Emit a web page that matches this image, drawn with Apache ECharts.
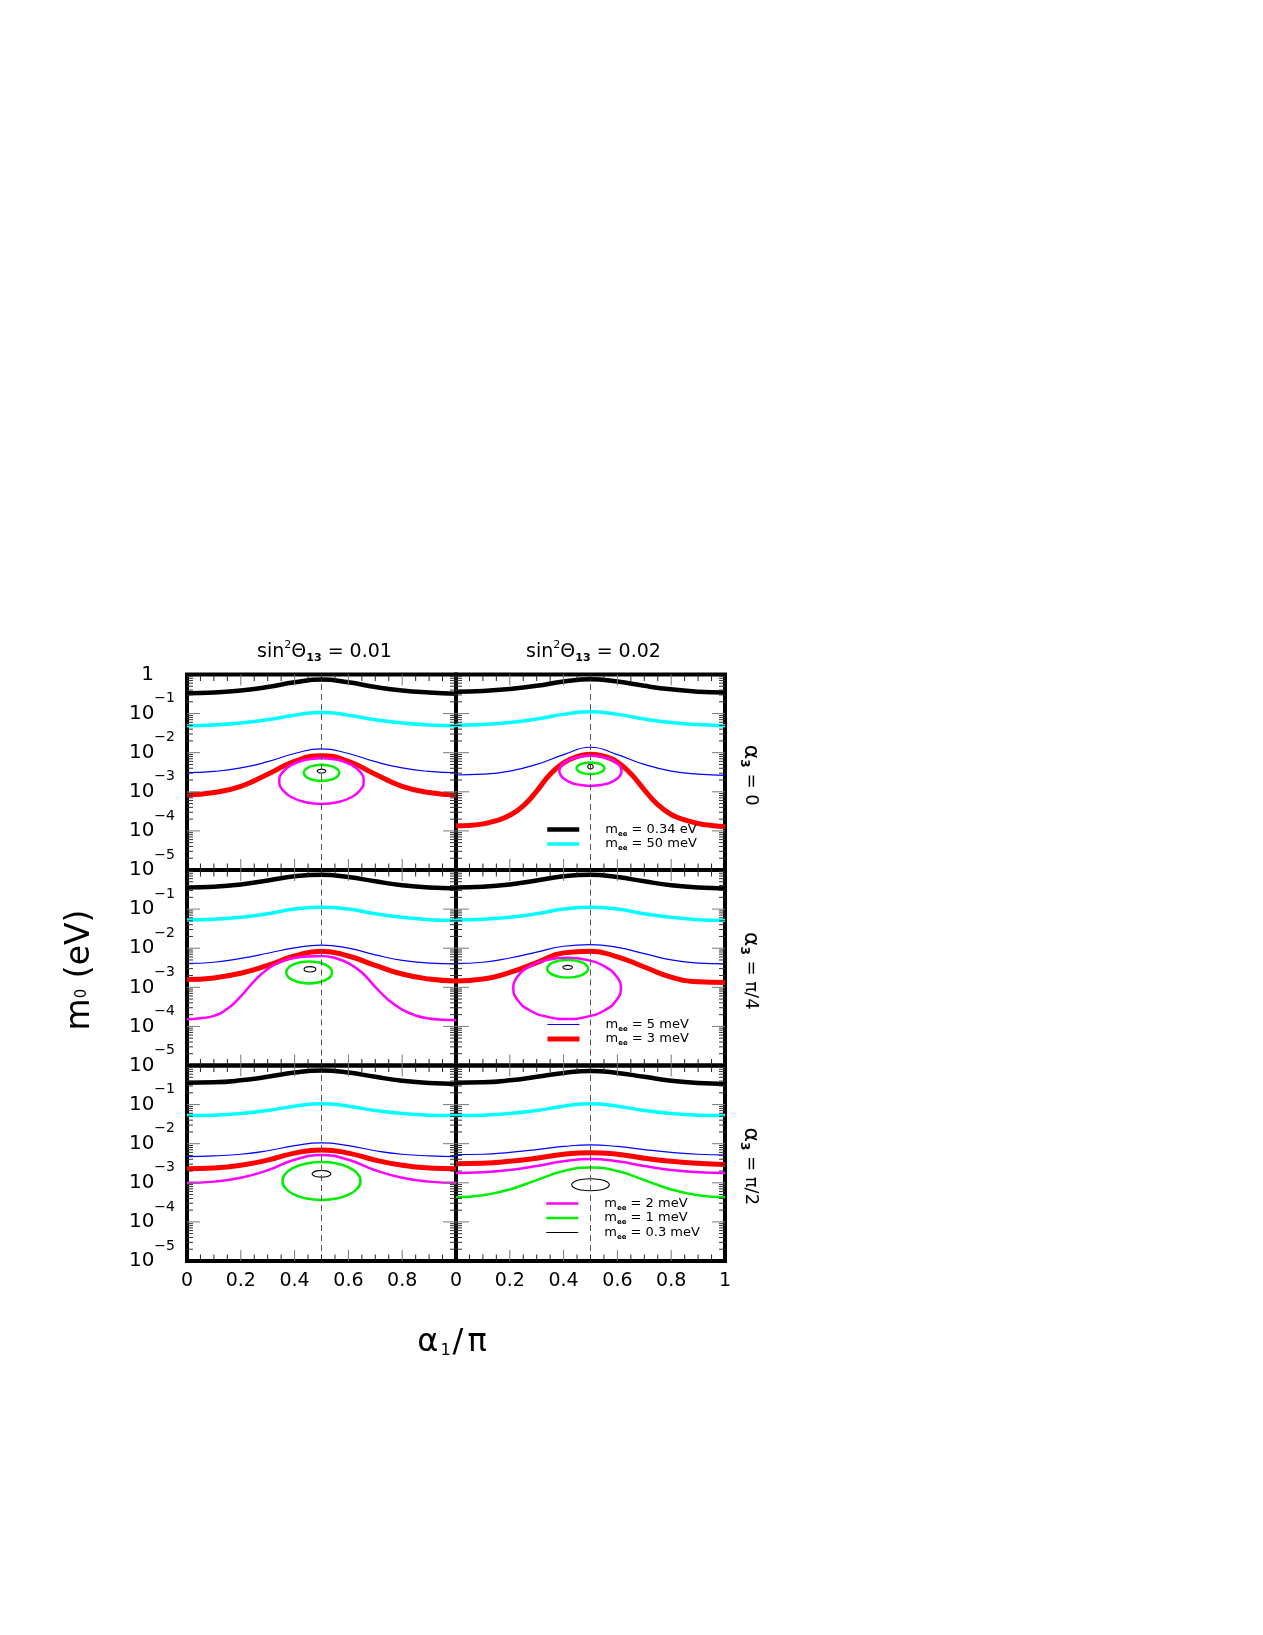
<!DOCTYPE html>
<html>
<head>
<meta charset="utf-8">
<script src="https://cdn.jsdelivr.net/npm/echarts/dist/echarts.min.js"></script>
<style>html,body{margin:0;padding:0;background:#fff}#c{width:1263px;height:1635px}</style>
</head>
<body>
<div id="c"></div>
<script>
const FONT = 'DejaVu Sans';

// ---- x positions (alpha1 / pi) ----
const alphaCoarse = [0, 0.1, 0.2, 0.3, 0.4, 0.5, 0.6, 0.7, 0.8, 0.9, 1];
const alphaFine = [0, 0.05, 0.1, 0.15, 0.2, 0.25, 0.3, 0.35, 0.4, 0.45, 0.5, 0.55, 0.6, 0.65, 0.7, 0.75, 0.8, 0.85, 0.9, 0.95, 1];

// ---- labels / ticks ----
const colTitles = ['0.01', '0.02'];            // sin^2 Theta13
const rowLabels = ['0', 'π/4', 'π/2'];         // alpha3
const yTickExp = [0, -1, -2, -3, -4, -5];      // log10(m0/eV) tick labels
const xMajorTicks = [0.2, 0.4, 0.6, 0.8];
const xMinorTicks = [0.05, 0.1, 0.15, 0.25, 0.3, 0.35, 0.45, 0.5, 0.55, 0.65, 0.7, 0.75, 0.85, 0.9, 0.95];
const yMajorTicks = [-1, -2, -3, -4];

// ---- values: log10(m0 / eV) ----
// Panel 1: sin2=0.01, alpha3=0
const p1Black = [-0.48, -0.46, -0.41, -0.32, -0.20, -0.13, -0.20, -0.32, -0.41, -0.46, -0.49];
const p1Cyan  = [-1.31, -1.29, -1.24, -1.16, -1.04, -0.97, -1.04, -1.16, -1.24, -1.29, -1.31];
const p1Blue  = [-2.51, -2.48, -2.39, -2.23, -2.02, -1.90, -2.02, -2.23, -2.39, -2.48, -2.51];
const p1Red   = [-3.08, -3.02, -2.86, -2.55, -2.22, -2.08, -2.22, -2.55, -2.86, -3.02, -3.08];
const p1Magenta = [[0.5,-2.14],[0.560,-2.184],[0.611,-2.311],[0.645,-2.501],[0.657,-2.725],[0.645,-2.949],[0.611,-3.139],[0.560,-3.266],[0.5,-3.31],[0.440,-3.266],[0.389,-3.139],[0.355,-2.949],[0.343,-2.725],[0.355,-2.501],[0.389,-2.311],[0.440,-2.184],[0.5,-2.14]];
const p1Green = [[0.5,-2.31],[0.525,-2.326],[0.547,-2.37],[0.561,-2.437],[0.566,-2.515],[0.561,-2.594],[0.547,-2.66],[0.525,-2.704],[0.5,-2.72],[0.475,-2.704],[0.453,-2.66],[0.439,-2.594],[0.434,-2.515],[0.439,-2.437],[0.453,-2.37],[0.475,-2.326],[0.5,-2.31]];
const p1Tiny  = [[0.5,-2.42],[0.511,-2.435],[0.516,-2.47],[0.511,-2.505],[0.5,-2.52],[0.489,-2.505],[0.484,-2.47],[0.489,-2.435],[0.5,-2.42]];

// Panel 2: sin2=0.02, alpha3=0
const p2Black = [-0.44, -0.42, -0.37, -0.29, -0.18, -0.12, -0.18, -0.29, -0.38, -0.44, -0.46];
const p2Cyan  = [-1.30, -1.28, -1.23, -1.14, -1.02, -0.95, -1.02, -1.14, -1.23, -1.28, -1.31];
const p2Blue  = [-2.57, -2.55, -2.47, -2.30, -2.05, -1.86, -2.05, -2.30, -2.47, -2.55, -2.58];
const p2Red   = [-3.87, -3.86, -3.82, -3.74, -3.60, -3.36, -2.98, -2.55, -2.26, -2.10, -2.04, -2.09, -2.24, -2.54, -2.95, -3.33, -3.58, -3.72, -3.81, -3.86, -3.89];
const p2Magenta = [[0.5,-2.08],[0.544,-2.109],[0.582,-2.193],[0.607,-2.318],[0.616,-2.465],[0.607,-2.612],[0.582,-2.737],[0.544,-2.821],[0.5,-2.85],[0.456,-2.821],[0.418,-2.737],[0.393,-2.612],[0.384,-2.465],[0.393,-2.318],[0.418,-2.193],[0.456,-2.109],[0.5,-2.08]];
const p2Green = [[0.5,-2.25],[0.52,-2.261],[0.537,-2.293],[0.548,-2.341],[0.552,-2.398],[0.548,-2.455],[0.537,-2.503],[0.52,-2.535],[0.5,-2.546],[0.48,-2.535],[0.463,-2.503],[0.452,-2.455],[0.448,-2.398],[0.452,-2.341],[0.463,-2.293],[0.48,-2.261],[0.5,-2.25]];
const p2Tiny  = [[0.5,-2.295],[0.507,-2.31],[0.51,-2.355],[0.507,-2.40],[0.5,-2.415],[0.493,-2.40],[0.49,-2.355],[0.493,-2.31],[0.5,-2.295]];

// Panel 3: sin2=0.01, alpha3=pi/4
const p3Black = [-0.45, -0.43, -0.37, -0.27, -0.16, -0.12, -0.18, -0.29, -0.39, -0.45, -0.47];
const p3Cyan  = [-1.28, -1.26, -1.21, -1.12, -1.00, -0.95, -1.00, -1.12, -1.21, -1.27, -1.29];
const p3Blue  = [-2.39, -2.36, -2.26, -2.13, -1.99, -1.92, -2.00, -2.17, -2.31, -2.38, -2.40];
const p3Red   = [-2.80, -2.76, -2.64, -2.44, -2.20, -2.08, -2.20, -2.44, -2.66, -2.79, -2.84];
const p3Magenta = [-3.82, -3.79, -3.73, -3.55, -3.23, -2.84, -2.53, -2.34, -2.25, -2.21, -2.20, -2.25, -2.38, -2.62, -2.99, -3.33, -3.57, -3.72, -3.80, -3.83, -3.84];
const p3Green = [[0.454,-2.34],[0.487,-2.361],[0.514,-2.422],[0.533,-2.513],[0.539,-2.62],[0.533,-2.727],[0.514,-2.818],[0.487,-2.879],[0.454,-2.90],[0.421,-2.879],[0.394,-2.818],[0.375,-2.727],[0.369,-2.62],[0.375,-2.513],[0.394,-2.422],[0.421,-2.361],[0.454,-2.34]];
const p3Tiny  = [[0.457,-2.47],[0.473,-2.49],[0.479,-2.54],[0.473,-2.59],[0.457,-2.61],[0.441,-2.59],[0.435,-2.54],[0.441,-2.49],[0.457,-2.47]];

// Panel 4: sin2=0.02, alpha3=pi/4
const p4Black = [-0.45, -0.43, -0.37, -0.27, -0.16, -0.12, -0.18, -0.29, -0.39, -0.45, -0.47];
const p4Cyan  = [-1.28, -1.26, -1.21, -1.12, -1.00, -0.95, -1.00, -1.12, -1.21, -1.27, -1.29];
const p4Blue  = [-2.39, -2.36, -2.25, -2.10, -1.95, -1.91, -1.98, -2.14, -2.30, -2.38, -2.40];
const p4Red   = [-2.84, -2.79, -2.62, -2.37, -2.12, -2.08, -2.22, -2.48, -2.74, -2.86, -2.88];
const p4Magenta = [[0.413,-2.242],[0.489,-2.302],[0.554,-2.472],[0.597,-2.726],[0.613,-3.026],[0.597,-3.326],[0.554,-3.580],[0.489,-3.750],[0.413,-3.81],[0.337,-3.750],[0.272,-3.580],[0.229,-3.326],[0.213,-3.026],[0.229,-2.726],[0.272,-2.472],[0.337,-2.302],[0.413,-2.242]];
const p4Green = [[0.415,-2.30],[0.444,-2.317],[0.469,-2.366],[0.485,-2.439],[0.491,-2.525],[0.485,-2.611],[0.469,-2.684],[0.444,-2.733],[0.415,-2.75],[0.386,-2.733],[0.361,-2.684],[0.345,-2.611],[0.339,-2.525],[0.345,-2.439],[0.361,-2.366],[0.386,-2.317],[0.415,-2.30]];
const p4Tiny  = [[0.415,-2.44],[0.428,-2.455],[0.433,-2.49],[0.428,-2.525],[0.415,-2.54],[0.402,-2.525],[0.397,-2.49],[0.402,-2.455],[0.415,-2.44]];

// Panel 5: sin2=0.01, alpha3=pi/2
const p5Black = [-0.44, -0.43, -0.38, -0.29, -0.18, -0.13, -0.18, -0.29, -0.39, -0.45, -0.47];
const p5Cyan  = [-1.28, -1.27, -1.23, -1.15, -1.04, -0.98, -1.04, -1.15, -1.23, -1.27, -1.28];
const p5Blue  = [-2.33, -2.31, -2.27, -2.18, -2.05, -1.98, -2.05, -2.18, -2.27, -2.31, -2.33];
const p5Red   = [-2.64, -2.62, -2.55, -2.42, -2.24, -2.16, -2.24, -2.42, -2.55, -2.62, -2.64];
const p5Magenta = [-3.00, -2.97, -2.87, -2.68, -2.41, -2.29, -2.41, -2.68, -2.87, -2.97, -3.00];
const p5Green = [[0.5,-2.47],[0.556,-2.507],[0.603,-2.612],[0.634,-2.769],[0.645,-2.955],[0.634,-3.141],[0.603,-3.298],[0.556,-3.403],[0.5,-3.44],[0.444,-3.403],[0.397,-3.298],[0.366,-3.141],[0.355,-2.955],[0.366,-2.769],[0.397,-2.612],[0.444,-2.507],[0.5,-2.47]];
const p5Tiny  = [[0.5,-2.685],[0.518,-2.696],[0.530,-2.728],[0.535,-2.77],[0.530,-2.813],[0.518,-2.844],[0.5,-2.855],[0.482,-2.844],[0.470,-2.813],[0.465,-2.77],[0.470,-2.728],[0.482,-2.696],[0.5,-2.685]];

// Panel 6: sin2=0.02, alpha3=pi/2
const p6Black = [-0.44, -0.43, -0.38, -0.29, -0.19, -0.14, -0.19, -0.29, -0.39, -0.45, -0.47];
const p6Cyan  = [-1.28, -1.27, -1.23, -1.15, -1.04, -0.98, -1.04, -1.15, -1.23, -1.27, -1.28];
const p6Blue  = [-2.28, -2.27, -2.22, -2.15, -2.07, -2.03, -2.07, -2.15, -2.22, -2.27, -2.29];
const p6Red   = [-2.51, -2.50, -2.45, -2.37, -2.27, -2.23, -2.27, -2.37, -2.45, -2.50, -2.53];
const p6Magenta = [-2.75, -2.73, -2.67, -2.57, -2.45, -2.39, -2.45, -2.57, -2.67, -2.73, -2.75];
const p6Green = [-3.37, -3.32, -3.17, -2.93, -2.70, -2.61, -2.70, -2.93, -3.17, -3.32, -3.37];
const p6Tiny  = [[0.5,-2.895],[0.535,-2.916],[0.561,-2.973],[0.57,-3.05],[0.561,-3.128],[0.535,-3.184],[0.5,-3.205],[0.465,-3.184],[0.439,-3.128],[0.43,-3.05],[0.439,-2.973],[0.465,-2.916],[0.5,-2.895]];

// ---- assembly ----
const N = ['0.34 eV', '50 meV', '5 meV', '3 meV', '2 meV', '1 meV', '0.3 meV'];
const panels = [
  [[N[0], alphaCoarse, p1Black], [N[1], alphaCoarse, p1Cyan], [N[2], alphaCoarse, p1Blue], [N[3], alphaCoarse, p1Red], [N[4], null, p1Magenta], [N[5], null, p1Green], [N[6], null, p1Tiny]],
  [[N[0], alphaCoarse, p2Black], [N[1], alphaCoarse, p2Cyan], [N[2], alphaCoarse, p2Blue], [N[3], alphaFine, p2Red], [N[4], null, p2Magenta], [N[5], null, p2Green], [N[6], null, p2Tiny]],
  [[N[0], alphaCoarse, p3Black], [N[1], alphaCoarse, p3Cyan], [N[2], alphaCoarse, p3Blue], [N[3], alphaCoarse, p3Red], [N[4], alphaFine, p3Magenta], [N[5], null, p3Green], [N[6], null, p3Tiny]],
  [[N[0], alphaCoarse, p4Black], [N[1], alphaCoarse, p4Cyan], [N[2], alphaCoarse, p4Blue], [N[3], alphaCoarse, p4Red], [N[4], null, p4Magenta], [N[5], null, p4Green], [N[6], null, p4Tiny]],
  [[N[0], alphaCoarse, p5Black], [N[1], alphaCoarse, p5Cyan], [N[2], alphaCoarse, p5Blue], [N[3], alphaCoarse, p5Red], [N[4], alphaCoarse, p5Magenta], [N[5], null, p5Green], [N[6], null, p5Tiny]],
  [[N[0], alphaCoarse, p6Black], [N[1], alphaCoarse, p6Cyan], [N[2], alphaCoarse, p6Blue], [N[3], alphaCoarse, p6Red], [N[4], alphaCoarse, p6Magenta], [N[5], alphaCoarse, p6Green], [N[6], null, p6Tiny]]
];
const lineStyles = {
  '0.34 eV': { color: '#000000', width: 4.5 },
  '50 meV':  { color: '#00ffff', width: 3.5 },
  '5 meV':   { color: '#0000ff', width: 1.2 },
  '3 meV':   { color: '#ff0000', width: 5 },
  '2 meV':   { color: '#ff00ff', width: 2.5 },
  '1 meV':   { color: '#00ee00', width: 2.5 },
  '0.3 meV': { color: '#000000', width: 1.1 }
};

const colLeft = [187, 456];
const rowTop = [674.5, 870, 1065.5];
const PW = 269, PH = 195.5;

// log-decade minor tick positions (axis decoration)
const yMinorTicks = [];
for (let d = -5; d <= -1; d++) for (let k = 2; k <= 9; k++) yMinorTicks.push(d + Math.log10(k));

function tickLine(x1, y1, x2, y2, color) {
  return { type: 'line', shape: { x1, y1, x2, y2 }, style: { stroke: color, lineWidth: 1 } };
}
function renderTicks(params, api) {
  const ch = [];
  const yTop = api.coord([0, 0])[1], yBot = api.coord([0, -5])[1];
  const xL = api.coord([0, 0])[0], xR = api.coord([1, 0])[0];
  xMinorTicks.forEach(v => {
    const x = api.coord([v, 0])[0];
    ch.push(tickLine(x, yTop, x, yTop + 6.5, '#222'));
    ch.push(tickLine(x, yBot, x, yBot - 6.5, '#222'));
  });
  xMajorTicks.forEach(v => {
    const x = api.coord([v, 0])[0];
    ch.push(tickLine(x, yTop, x, yTop + 11, '#777'));
    ch.push(tickLine(x, yBot, x, yBot - 11, '#777'));
  });
  yMinorTicks.forEach(v => {
    const y = api.coord([0, v])[1];
    ch.push(tickLine(xL, y, xL + 6, y, '#333'));
    ch.push(tickLine(xR, y, xR - 6, y, '#333'));
  });
  yMajorTicks.forEach(v => {
    const y = api.coord([0, v])[1];
    ch.push(tickLine(xL, y, xL + 13, y, '#777'));
    ch.push(tickLine(xR, y, xR - 13, y, '#777'));
  });
  return { type: 'group', children: ch };
}

const grids = [], xAxes = [], yAxes = [], series = [];
panels.forEach((curves, i) => {
  const row = Math.floor(i / 2), col = i % 2;
  grids.push({ left: colLeft[col], top: rowTop[row], width: PW, height: PH, show: true,
    borderColor: '#000', borderWidth: 4, backgroundColor: 'rgba(0,0,0,0)', outerBoundsMode: 'none', containLabel: false });
  xAxes.push({ type: 'value', gridIndex: i, position: 'bottom', min: 0, max: 1, interval: 0.2,
    axisLine: { show: false }, splitLine: { show: false }, axisTick: { show: false }, minorTick: { show: false },
    axisLabel: { show: row === 2, margin: 11, color: '#000', fontSize: 19, fontFamily: FONT,
      showMaxLabel: col === 1, showMinLabel: true,
      formatter: v => (v === 0 ? '0' : (Math.abs(v - 1) < 1e-9 ? '1' : v.toFixed(1))) } });
  yAxes.push({ type: 'value', gridIndex: i, position: 'left', min: -5, max: 0, interval: 1,
    axisLine: { show: false }, splitLine: { show: false }, axisTick: { show: false }, minorTick: { show: false },
    axisLabel: { show: col === 0, margin: 12, color: '#000', showMaxLabel: row === 0, showMinLabel: true,
      formatter: v => (v === 0 ? '{one|1}' : '{b|10}{s|−' + Math.abs(Math.round(v)) + '}'),
      rich: {
        one: { fontSize: 20, fontFamily: FONT, color: '#000', padding: [0, 21, 0, 0] },
        b: { fontSize: 20, fontFamily: FONT, color: '#000', lineHeight: 44 },
        s: { fontSize: 14, fontFamily: FONT, color: '#000', verticalAlign: 'top' }
      } } });

  // tick marks on all four inner edges
  series.push({ type: 'custom', xAxisIndex: i, yAxisIndex: i, silent: true, clip: false, z: 5,
    data: [[0.5, -2.5]], renderItem: renderTicks });

  curves.forEach((c, j) => {
    const [name, xs, ys] = c;
    const data = xs ? xs.map((x, k) => [x, ys[k]]) : ys;
    const st = lineStyles[name];
    const s = { type: 'line', name, xAxisIndex: i, yAxisIndex: i, data, symbol: 'none', showSymbol: false,
      smooth: 0.5, silent: true, animation: false, color: st.color,
      lineStyle: { color: st.color, width: st.width } };
    if (j === 0) {
      s.markLine = { silent: true, symbol: ['none', 'none'], label: { show: false }, animation: false,
        lineStyle: { type: [6, 4], color: '#555', width: 1 }, data: [{ xAxis: 0.5 }] };
    }
    series.push(s);
  });
});

const legendCommon = {
  orient: 'vertical', padding: 0, itemWidth: 32, itemHeight: 16, itemGap: 0, selectedMode: false,
  itemStyle: { opacity: 0 }, lineStyle: { width: 'inherit' },
  formatter: name => '{g| }{m|m}{e|ee}{t| = ' + name + '}',
  textStyle: { rich: {
    g: { width: 21 },
    m: { fontSize: 13, fontFamily: FONT, color: '#000', lineHeight: 16 },
    e: { fontSize: 7, fontFamily: FONT, fontWeight: 'bold', color: '#000', verticalAlign: 'bottom' },
    t: { fontSize: 13, fontFamily: FONT, color: '#000', lineHeight: 16 }
  } }
};
const legends = [
  Object.assign({ left: 545, top: 823, data: [N[0], N[1]] }, legendCommon),
  Object.assign({ left: 545, top: 1018, data: [N[2], N[3]] }, legendCommon),
  Object.assign({ left: 545, top: 1197, data: [N[4], N[5], N[6]] }, legendCommon)
];

const graphics = [];
colTitles.forEach((t, c) => {
  graphics.push({ type: 'text', x: colLeft[c] + PW / 2 + 3, y: 652, silent: true,
    style: { text: '{t|sin}{p|2}{t|Θ}{b|13}{t| = ' + t + '}', align: 'center', verticalAlign: 'middle',
      rich: {
        t: { fontSize: 19, fontFamily: FONT, fill: '#000', lineHeight: 24 },
        p: { fontSize: 11, fontFamily: FONT, fill: '#000', verticalAlign: 'top' },
        b: { fontSize: 11, fontFamily: FONT, fontWeight: 'bold', fill: '#000', verticalAlign: 'bottom' }
      } } });
});
rowLabels.forEach((t, r) => {
  graphics.push({ type: 'text', x: 751, y: rowTop[r] + PH / 2 + 3, rotation: -Math.PI / 2, silent: true,
    style: { text: '{a|α}{b|3}{t| = ' + t + '}', align: 'center', verticalAlign: 'middle',
      rich: {
        a: { fontSize: 22, fontFamily: FONT, fill: '#000', lineHeight: 26 },
        b: { fontSize: 12, fontFamily: FONT, fontWeight: 'bold', fill: '#000', verticalAlign: 'bottom' },
        t: { fontSize: 18, fontFamily: FONT, fill: '#000', lineHeight: 26 }
      } } });
});
graphics.push({ type: 'text', x: 80, y: 970, rotation: Math.PI / 2, silent: true,
  style: { text: '{a|m}{s|0}{a| (eV)}', align: 'center', verticalAlign: 'middle',
    rich: {
      a: { fontSize: 33, fontFamily: FONT, fill: '#000', lineHeight: 40 },
      s: { fontSize: 15, fontFamily: FONT, fill: '#000', padding: [4, 0, 0, 0] }
    } } });
graphics.push({ type: 'text', x: 452, y: 1343, silent: true,
  style: { text: '{a|α}{s|1}{a|/}{a|π}', align: 'center', verticalAlign: 'middle',
    rich: {
      a: { fontSize: 32, fontFamily: FONT, fill: '#000', lineHeight: 32, padding: [0, 2, 0, 2] },
      s: { fontSize: 16, fontFamily: FONT, fill: '#000', verticalAlign: 'bottom' }
    } } });

const chart = echarts.init(document.getElementById('c'), null, { renderer: 'canvas' });
chart.setOption({
  animation: false,
  backgroundColor: '#ffffff',
  textStyle: { fontFamily: FONT },
  grid: grids,
  xAxis: xAxes,
  yAxis: yAxes,
  legend: legends,
  graphic: graphics,
  series: series
});
</script>
</body>
</html>
